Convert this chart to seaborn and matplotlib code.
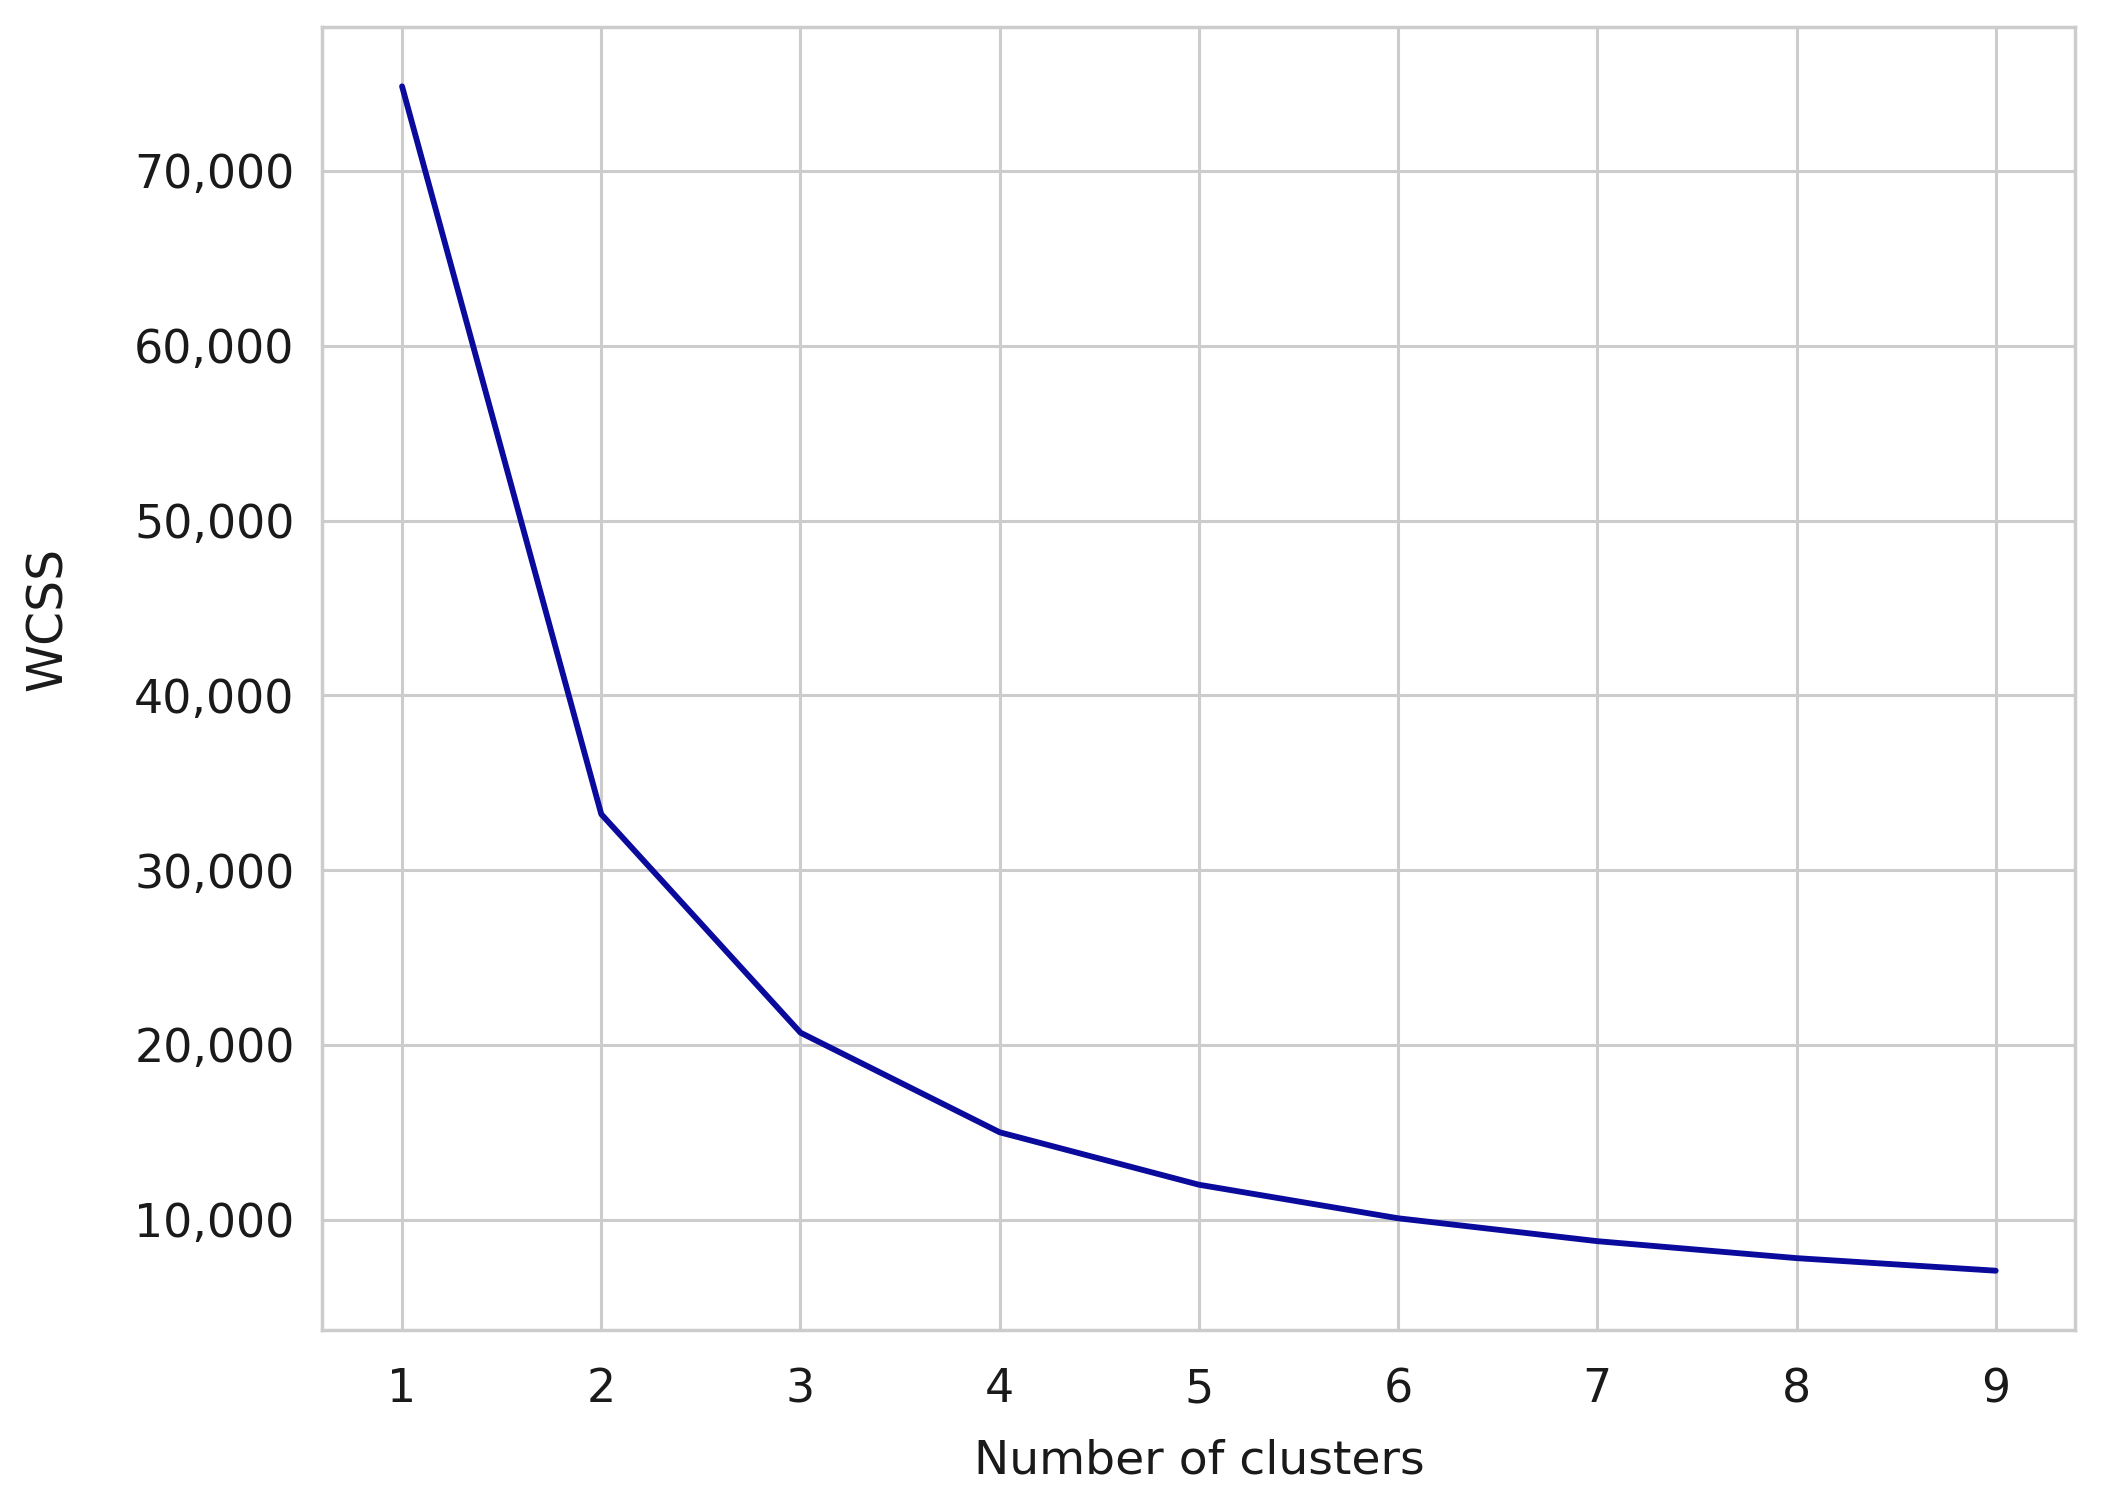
import matplotlib
matplotlib.use("Agg")
import matplotlib.pyplot as plt
import matplotlib.ticker as mticker
import seaborn as sns
import pandas as pd

# Elbow curve data
clusters = [1, 2, 3, 4, 5, 6, 7, 8, 9]
wcss = [74840, 33200, 20700, 15000, 12000, 10080, 8770, 7800, 7080]

df = pd.DataFrame({'Number of clusters': clusters, 'WCSS': wcss})

sns.set_theme(style="whitegrid")
plt.rcParams['font.family'] = ['DejaVu Sans']

fig = plt.figure(figsize=(21.07, 15.07), dpi=100)
ax = fig.add_axes([0.153, 0.1175, 0.832, 0.8645])

sns.lineplot(data=df, x='Number of clusters', y='WCSS', color='#0a0a9c', linewidth=4.2, ax=ax)

ax.set_xticks(clusters)
ax.yaxis.set_major_formatter(mticker.FuncFormatter(lambda v, p: f'{int(v):,}'))
ax.tick_params(axis='both', labelsize=33, colors='#1a1a1a')
ax.tick_params(axis='y', pad=14)
ax.tick_params(axis='x', pad=21)
ax.set_xlabel('Number of clusters', fontsize=34, color='#1a1a1a')
ax.set_ylabel('WCSS', fontsize=35, color='#1a1a1a')
ax.yaxis.set_label_coords(-0.143, 0.546)
ax.xaxis.set_label_coords(0.5, -0.083)

ax.grid(True, color='#cccccc', linewidth=2.2)
for s in ax.spines.values():
    s.set_color('#cccccc')
    s.set_linewidth(2.5)

fig.savefig('out.png', dpi=100)
